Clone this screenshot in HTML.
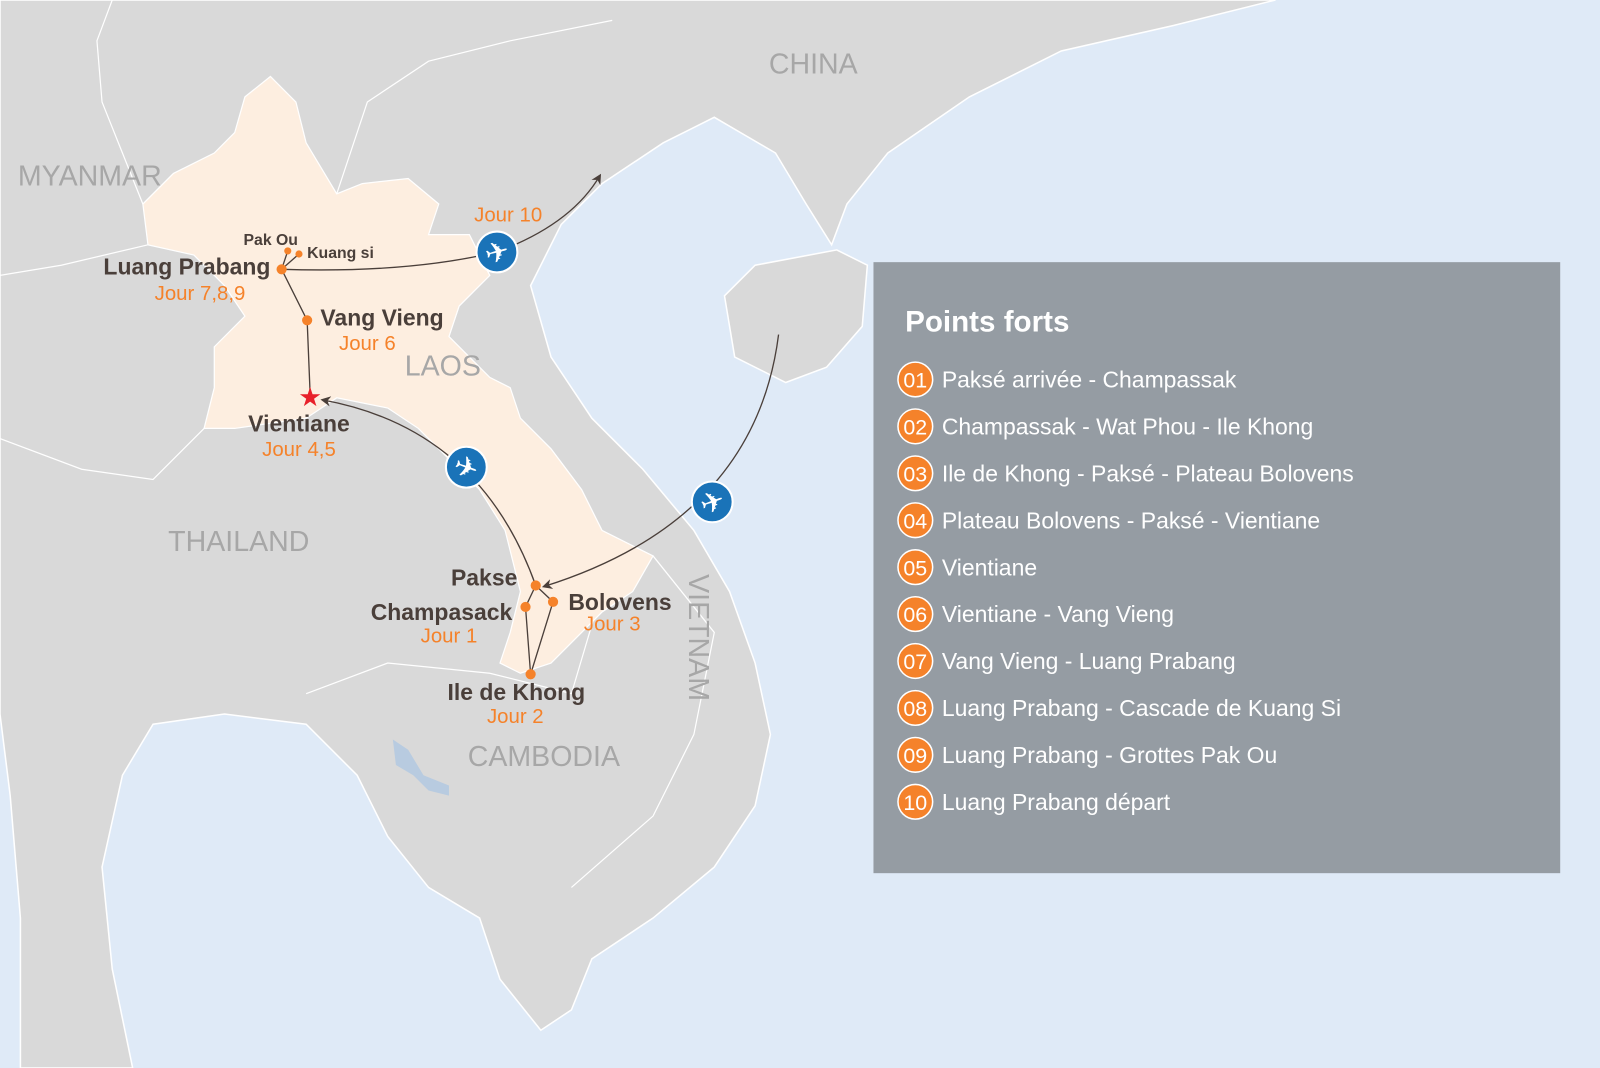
<!DOCTYPE html>
<html><head><meta charset="utf-8"><style>html,body{margin:0;padding:0;background:#dfeaf7}svg{display:block}text{font-family:"Liberation Sans",Arial,sans-serif}</style></head>
<body>
<svg width="1600" height="1068" viewBox="0 0 1568 1047" preserveAspectRatio="none" xmlns="http://www.w3.org/2000/svg">
<defs><marker id="ar" markerWidth="10" markerHeight="10" refX="8" refY="5" orient="auto" markerUnits="userSpaceOnUse"><path d="M0,0 L10,5 L0,10 L3,5 Z" fill="#4a3f3a"/></marker></defs>
<rect width="1568" height="1047" fill="#dfeaf7"/>
<polygon fill="#d9d9d9" stroke="#fff" stroke-width="1.5" points="0,0 1250,0 1150,25 1040,50 950,95 870,150 830,200 815,240 790,200 760,150 700,115 650,140 590,180 550,220 520,280 540,350 580,410 630,460 680,520 715,580 740,650 755,720 740,790 700,850 640,900 580,940 560,990 530,1010 490,960 470,900 420,870 380,820 350,760 300,710 220,700 150,710 120,760 100,850 110,950 130,1047 20,1047 20,900 10,780 0,700"/>
<polygon fill="#d9d9d9" stroke="#fff" stroke-width="1.5" points="710,290 740,260 820,245 850,260 845,320 810,360 770,375 720,350"/>
<path d="M385,725 L400,735 L415,760 L440,770 L440,780 L420,775 L405,760 L388,750 Z" fill="#b8cbe0"/>
<g fill="none" stroke="#fff" stroke-width="1.2">
<path d="M140,200 L120,150 L100,100 L95,40 L110,0"/>
<path d="M145,240 L60,260 L0,270"/>
<path d="M200,420 L150,470 L80,460 L0,430"/>
<path d="M330,190 L360,100 L420,60 L500,40 L600,20"/>
<path d="M600,545 L560,680 L480,660 L380,650 L300,680"/>
<path d="M640,545 L700,620 L680,720 L640,800 L560,870"/>
</g>
<polygon fill="#fdeee0" stroke="#fff" stroke-width="1.2" points="240,95 265,75 290,100 300,140 330,190 355,180 400,175 430,200 420,230 460,230 480,270 450,300 440,330 480,370 500,380 510,410 540,440 570,480 590,520 640,545 620,580 590,600 570,620 540,650 510,660 490,650 500,620 510,580 495,520 470,480 440,450 410,420 380,400 330,390 300,410 230,420 200,420 210,380 210,340 240,310 220,280 190,250 145,240 140,200 170,170 210,150 230,130"/>
<g fill="#a7a7a7" font-size="28">
<text x="797" y="72" text-anchor="middle">CHINA</text>
<text x="88" y="182" text-anchor="middle">MYANMAR</text>
<text x="434" y="368" text-anchor="middle">LAOS</text>
<text x="234" y="540" text-anchor="middle">THAILAND</text>
<text x="533" y="751" text-anchor="middle">CAMBODIA</text>
<text transform="translate(675,625) rotate(90)" text-anchor="middle">VIETNAM</text>
</g>
<g fill="none" stroke="#4a3f3a" stroke-width="1.3">
<path d="M276,264 Q400,268 487,247 Q560,220 588,172" marker-end="url(#ar)"/>
<path d="M525,574 Q470,420 316,392" marker-end="url(#ar)"/>
<path d="M763,328 Q740,510 533,575" marker-end="url(#ar)"/>
<path d="M276,264 L301,314 L304,388"/>
<path d="M276,264 L282,246 M276,264 L293,249"/>
<path d="M525,574 L515,595 L520,661 L542,590 Z"/>
</g>
<g fill="#f5822a">
<circle cx="276" cy="264" r="5"/><circle cx="301" cy="314" r="5"/><circle cx="282" cy="246" r="3.5"/><circle cx="293" cy="249" r="3.5"/>
<circle cx="525" cy="574" r="5"/><circle cx="515" cy="595" r="5"/><circle cx="542" cy="590" r="5"/><circle cx="520" cy="661" r="5"/>
</g>
<text x="304" y="398" text-anchor="middle" fill="#e8202a" font-size="26">★</text>
<g font-weight="bold" fill="#4a3f3a" font-size="22.5">
<text x="265" y="269" text-anchor="end">Luang Prabang</text>
<text x="314" y="319">Vang Vieng</text>
<text x="293" y="423" text-anchor="middle">Vientiane</text>
<text x="507" y="574" text-anchor="end">Pakse</text>
<text x="502" y="608" text-anchor="end">Champasack</text>
<text x="557" y="598">Bolovens</text>
<text x="506" y="686" text-anchor="middle">Ile de Khong</text>
<text x="292" y="240" text-anchor="end" font-size="15.5">Pak Ou</text>
<text x="301" y="253" font-size="15.5">Kuang si</text>
</g>
<g fill="#f5822a" font-size="20">
<text x="196" y="294" text-anchor="middle">Jour 7,8,9</text>
<text x="360" y="343" text-anchor="middle">Jour 6</text>
<text x="293" y="447" text-anchor="middle">Jour 4,5</text>
<text x="440" y="630" text-anchor="middle">Jour 1</text>
<text x="600" y="618" text-anchor="middle">Jour 3</text>
<text x="505" y="709" text-anchor="middle">Jour 2</text>
<text x="498" y="217" text-anchor="middle">Jour 10</text>
</g>
<g>
<circle cx="487" cy="247" r="20" fill="#1a73b8" stroke="#fff" stroke-width="2"/>
<text x="487" y="257" text-anchor="middle" fill="#fff" font-size="28" font-family="DejaVu Sans" transform="rotate(-15 487 247)">✈</text>
<circle cx="457" cy="458" r="20" fill="#1a73b8" stroke="#fff" stroke-width="2"/>
<text x="457" y="468" text-anchor="middle" fill="#fff" font-size="28" font-family="DejaVu Sans" transform="rotate(20 457 458)">✈</text>
<circle cx="698" cy="492" r="20" fill="#1a73b8" stroke="#fff" stroke-width="2"/>
<text x="698" y="502" text-anchor="middle" fill="#fff" font-size="28" font-family="DejaVu Sans" transform="rotate(-20 698 492)">✈</text>
</g>
<rect x="856" y="257" width="673" height="599" fill="#959ca3"/>
<text x="887" y="325" fill="#fff" font-weight="bold" font-size="29">Points forts</text>
<g font-size="22.5" fill="#fff">
<g><circle cx="897" cy="372" r="17" fill="#f5822a" stroke="#fff" stroke-width="1.5"/><text x="897" y="380" text-anchor="middle" font-size="21">01</text><text x="923" y="380">Paksé arrivée - Champassak</text></g>
<g><circle cx="897" cy="418" r="17" fill="#f5822a" stroke="#fff" stroke-width="1.5"/><text x="897" y="426" text-anchor="middle" font-size="21">02</text><text x="923" y="426">Champassak - Wat Phou - Ile Khong</text></g>
<g><circle cx="897" cy="464" r="17" fill="#f5822a" stroke="#fff" stroke-width="1.5"/><text x="897" y="472" text-anchor="middle" font-size="21">03</text><text x="923" y="472">Ile de Khong - Paksé - Plateau Bolovens</text></g>
<g><circle cx="897" cy="510" r="17" fill="#f5822a" stroke="#fff" stroke-width="1.5"/><text x="897" y="518" text-anchor="middle" font-size="21">04</text><text x="923" y="518">Plateau Bolovens - Paksé - Vientiane</text></g>
<g><circle cx="897" cy="556" r="17" fill="#f5822a" stroke="#fff" stroke-width="1.5"/><text x="897" y="564" text-anchor="middle" font-size="21">05</text><text x="923" y="564">Vientiane</text></g>
<g><circle cx="897" cy="602" r="17" fill="#f5822a" stroke="#fff" stroke-width="1.5"/><text x="897" y="610" text-anchor="middle" font-size="21">06</text><text x="923" y="610">Vientiane - Vang Vieng</text></g>
<g><circle cx="897" cy="648" r="17" fill="#f5822a" stroke="#fff" stroke-width="1.5"/><text x="897" y="656" text-anchor="middle" font-size="21">07</text><text x="923" y="656">Vang Vieng - Luang Prabang</text></g>
<g><circle cx="897" cy="694" r="17" fill="#f5822a" stroke="#fff" stroke-width="1.5"/><text x="897" y="702" text-anchor="middle" font-size="21">08</text><text x="923" y="702">Luang Prabang - Cascade de Kuang Si</text></g>
<g><circle cx="897" cy="740" r="17" fill="#f5822a" stroke="#fff" stroke-width="1.5"/><text x="897" y="748" text-anchor="middle" font-size="21">09</text><text x="923" y="748">Luang Prabang - Grottes Pak Ou</text></g>
<g><circle cx="897" cy="786" r="17" fill="#f5822a" stroke="#fff" stroke-width="1.5"/><text x="897" y="794" text-anchor="middle" font-size="21">10</text><text x="923" y="794">Luang Prabang départ</text></g>
</g>
</svg>
</body></html>
